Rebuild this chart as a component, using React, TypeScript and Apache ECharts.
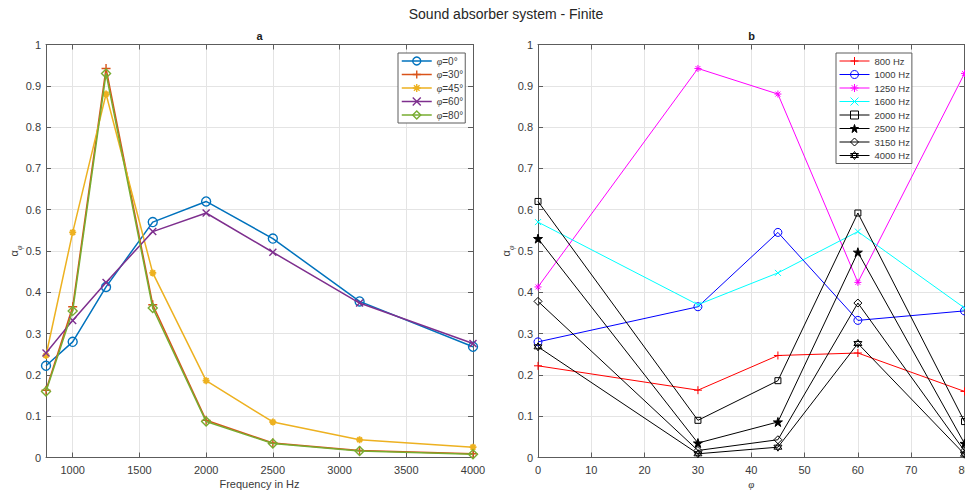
import React, { useEffect, useRef } from 'react';
import * as echarts from 'echarts';

// ---- data ----
const freqs = [800, 1000, 1250, 1600, 2000, 2500, 3150, 4000];
const angles = [0, 30, 45, 60, 80];
const freqTicks = [1000, 1500, 2000, 2500, 3000, 3500, 4000];
const alpha0 = [0.222, 0.28, 0.413, 0.57, 0.62, 0.53, 0.378, 0.268];
const alpha30 = [0.163, 0.365, 0.942, 0.37, 0.09, 0.035, 0.017, 0.009];
const alpha45 = [0.247, 0.545, 0.88, 0.447, 0.186, 0.086, 0.043, 0.025];
const alpha60 = [0.253, 0.332, 0.424, 0.547, 0.592, 0.497, 0.374, 0.276];
const alpha80 = [0.16, 0.355, 0.93, 0.362, 0.087, 0.034, 0.016, 0.008];
const byAngle = [alpha0, alpha30, alpha45, alpha60, alpha80];
const angleNames = angles.map((a) => 'φ=' + a + '°');
const freqNames = freqs.map((f) => f + ' Hz');

// ---- styles ----
const FONT = '"Liberation Sans", Arial, Helvetica, sans-serif';
const SERIF = '"Liberation Serif", serif';
const AXIS_COLOR = '#5c5c5c';
const TEXT_COLOR = '#3a3a3a';
const GRID_COLOR = '#e4e4e4';
const NONE = 'rgba(0,0,0,0)';

const SYM_PLUS = 'path://M5,0L5,10M0,5L10,5';
const SYM_X = 'path://M0,0L10,10M10,0L0,10';
const SYM_ASTER = 'path://M5,0L5,10M0,5L10,5M1.5,1.5L8.5,8.5M8.5,1.5L1.5,8.5';
const SYM_STAR = 'path://M5,0L6.12,3.45L9.76,3.45L6.82,5.59L7.94,9.05L5,6.91L2.06,9.05L3.18,5.59L0.24,3.45L3.88,3.45Z';
const SYM_HEX = 'path://M5,0L9.33,7.5L0.67,7.5ZM5,10L0.67,2.5L9.33,2.5Z';

const leftColors = ['#0072BD', '#D95319', '#EDB120', '#7E2F8E', '#77AC30'];
const leftSymbols = ['circle', SYM_PLUS, SYM_ASTER, SYM_X, 'diamond'];
const leftSizes = [9, 9, 7, 7, 9];
const leftMarkerWidth = [1.4, 1.4, 1.8, 1.4, 1.4];

const rightColors = ['#FF0000', '#0000FF', '#FF00FF', '#00FFFF', '#000000', '#000000', '#000000', '#000000'];
const rightSymbols = [SYM_PLUS, 'circle', SYM_ASTER, SYM_X, 'rect', SYM_STAR, 'diamond', SYM_HEX];
const rightSizes = [8, 8, 7, 6, 6, 9, 8, 8];
const rightFilled = [false, false, false, false, false, true, false, false];

const GRID_L = { left: 46, top: 44.5, width: 427, height: 413 };
const GRID_R = { left: 538, top: 44.5, width: 426.5, height: 413 };

function axisBase() {
  return {
    type: 'value' as const,
    nameMoveOverlap: false,
    axisLine: { show: true, onZero: false, lineStyle: { color: AXIS_COLOR, width: 1 } },
    axisTick: { show: true, inside: true, length: 5, lineStyle: { color: AXIS_COLOR, width: 1 } },
    axisLabel: { show: true, color: TEXT_COLOR, fontSize: 11, fontFamily: FONT, formatter: (v: number) => String(v) },
    splitLine: { show: true, lineStyle: { color: GRID_COLOR, width: 1 } },
  };
}

function mirrorAxis(gridIndex: number, position: string, extra: any) {
  const b = axisBase();
  return {
    ...b,
    gridIndex,
    position,
    ...extra,
    axisLabel: { show: false },
    splitLine: { show: false },
    axisTick: { ...b.axisTick, ...(extra.axisTick || {}) },
  };
}

const yName = '{a|α}{s|φ}';
const yNameStyle = {
  color: TEXT_COLOR,
  fontFamily: FONT,
  rich: {
    a: { fontSize: 11, lineHeight: 18, color: TEXT_COLOR, fontFamily: FONT },
    s: { fontSize: 8, lineHeight: 18, verticalAlign: 'bottom', fontStyle: 'italic', color: TEXT_COLOR, fontFamily: SERIF },
  },
};

function buildOption() {
  const b = axisBase();
  const xAxis = [
    {
      ...b,
      gridIndex: 0,
      position: 'bottom',
      min: 800,
      max: 4000,
      axisTick: { ...b.axisTick, customValues: freqTicks },
      axisLabel: { ...b.axisLabel, margin: 7, customValues: freqTicks },
      name: 'Frequency in Hz',
      nameLocation: 'middle',
      nameGap: 20,
      nameTextStyle: { color: TEXT_COLOR, fontSize: 11, lineHeight: 12, fontFamily: FONT },
    },
    mirrorAxis(0, 'top', { min: 800, max: 4000, axisTick: { customValues: freqTicks } }),
    {
      ...b,
      gridIndex: 1,
      position: 'bottom',
      min: 0,
      max: 80,
      interval: 10,
      axisLabel: { ...b.axisLabel, margin: 7 },
      name: 'φ',
      nameLocation: 'middle',
      nameGap: 20,
      nameTextStyle: { color: TEXT_COLOR, fontSize: 11, lineHeight: 12, fontStyle: 'italic', fontFamily: SERIF },
    },
    mirrorAxis(1, 'top', { min: 0, max: 80, interval: 10 }),
  ];
  const yAxis = [
    {
      ...b,
      gridIndex: 0,
      position: 'left',
      min: 0,
      max: 1,
      interval: 0.1,
      axisLabel: { ...b.axisLabel, margin: 5 },
      name: yName,
      nameLocation: 'middle',
      nameRotate: 90,
      nameGap: 23,
      nameTextStyle: yNameStyle,
    },
    mirrorAxis(0, 'right', { min: 0, max: 1, interval: 0.1 }),
    {
      ...b,
      gridIndex: 1,
      position: 'left',
      min: 0,
      max: 1,
      interval: 0.1,
      axisLabel: { ...b.axisLabel, margin: 5 },
      name: yName,
      nameLocation: 'middle',
      nameRotate: 90,
      nameGap: 23,
      nameTextStyle: yNameStyle,
    },
    mirrorAxis(1, 'right', { min: 0, max: 1, interval: 0.1 }),
  ];

  const leftSeries = byAngle.map((vals, j) => ({
    type: 'line',
    name: angleNames[j],
    xAxisIndex: 0,
    yAxisIndex: 0,
    data: freqs.map((f, i) => [f, vals[i]]),
    symbol: leftSymbols[j],
    symbolSize: leftSizes[j],
    showAllSymbol: true,
    lineStyle: { color: leftColors[j], width: 1.5 },
    itemStyle: { color: NONE, borderColor: leftColors[j], borderWidth: leftMarkerWidth[j] },
    emphasis: { disabled: true },
    z: 2 + j,
  }));

  const rightSeries = freqs.map((f, i) => ({
    type: 'line',
    name: freqNames[i],
    xAxisIndex: 2,
    yAxisIndex: 2,
    data: angles.map((a, j) => [a, byAngle[j][i]]),
    symbol: rightSymbols[i],
    symbolSize: rightSizes[i],
    showAllSymbol: true,
    lineStyle: { color: rightColors[i], width: 1 },
    itemStyle: {
      color: rightFilled[i] ? rightColors[i] : NONE,
      borderColor: rightColors[i],
      borderWidth: 1,
    },
    emphasis: { disabled: true },
    z: 2 + i,
  }));

  const legendCommon = {
    orient: 'vertical',
    itemWidth: 30,
    itemHeight: 10,
    itemGap: 3.5,
    padding: [3, 2, 3, 3],
    backgroundColor: '#ffffff',
    borderColor: '#5c5c5c',
    borderWidth: 1,
    borderRadius: 0,
    selectedMode: false,
    z: 20,
  };

  return {
    animation: false,
    backgroundColor: '#ffffff',
    title: [
      {
        text: 'Sound absorber system - Finite',
        left: 506,
        top: 7,
        textAlign: 'center',
        padding: 0,
        textStyle: { fontSize: 14, fontWeight: 'normal', color: '#262626', fontFamily: FONT },
      },
      {
        text: 'a',
        left: 259.5,
        top: 30,
        textAlign: 'center',
        padding: 0,
        textStyle: { fontSize: 11, fontWeight: 'bold', color: '#1a1a1a', fontFamily: FONT },
      },
      {
        text: 'b',
        left: 751.5,
        top: 30,
        textAlign: 'center',
        padding: 0,
        textStyle: { fontSize: 11, fontWeight: 'bold', color: '#1a1a1a', fontFamily: FONT },
      },
    ],
    grid: [
      { ...GRID_L, containLabel: false, outerBoundsMode: 'none' },
      { ...GRID_R, containLabel: false, outerBoundsMode: 'none' },
    ],
    legend: [
      {
        ...legendCommon,
        data: angleNames,
        left: 398,
        top: 53,
        lineStyle: { width: 1.5 },
        itemStyle: { borderWidth: 1.4 },
        formatter: (name: string) => '{i|φ}' + name.slice(1),
        textStyle: {
          fontSize: 10,
          color: TEXT_COLOR,
          fontFamily: FONT,
          rich: { i: { fontSize: 10, fontStyle: 'italic', color: TEXT_COLOR, fontFamily: SERIF } },
        },
      },
      {
        ...legendCommon,
        data: freqNames,
        left: 836,
        top: 53,
        lineStyle: { width: 1 },
        itemStyle: { borderWidth: 1 },
        textStyle: { fontSize: 9.5, color: TEXT_COLOR, fontFamily: FONT },
      },
    ],
    xAxis,
    yAxis,
    series: [...leftSeries, ...rightSeries],
  };
}

export default function App() {
  const ref = useRef<HTMLDivElement>(null);
  useEffect(() => {
    if (!ref.current) return;
    const chart = echarts.init(ref.current, undefined, { renderer: 'svg' });
    chart.setOption(buildOption() as any);
    return () => chart.dispose();
  }, []);
  return (
    <div
      ref={ref}
      style={{ position: 'fixed', left: 0, top: 0, width: 965, height: 490, background: '#fff' }}
    />
  );
}
